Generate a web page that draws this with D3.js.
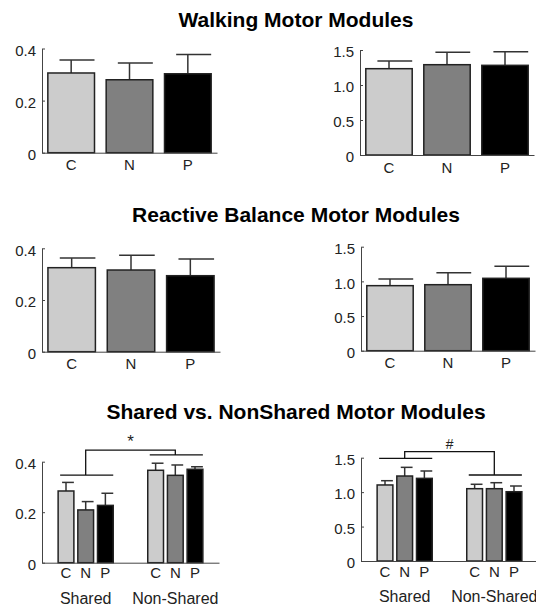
<!DOCTYPE html>
<html>
<head>
<meta charset="utf-8">
<script src="https://cdn.jsdelivr.net/npm/d3@7"></script>
<style>
  body { margin: 0; background: #fff; }
  svg { display: block; font-family: "Liberation Sans", Arial, sans-serif; }
  .title { font-weight: bold; font-size: 21px; fill: #000; }
  .axis text { font-size: 15px; fill: #222; font-family: "Liberation Sans", Arial, sans-serif; }
  .axis .grp text { font-size: 16px; }
  .axis path, .axis line { stroke: #444; }
</style>
</head>
<body>
<div id="container"></div>
<script>
// groups of subjects
const subjects = ['C', 'N', 'P'];
const subjectColors = ['#cccccc', '#808080', '#000000'];
const moduleTypes = ['Shared', 'Non-Shared'];

// walking motor modules (mean, sd)
const walkLeft = [0.306, 0.280, 0.303];
const walkLeftSd = [0.050, 0.064, 0.074];
const walkRight = [1.233, 1.290, 1.281];
const walkRightSd = [0.110, 0.177, 0.195];

// reactive balance motor modules
const balLeft = [0.325, 0.316, 0.294];
const balLeftSd = [0.037, 0.057, 0.065];
const balRight = [0.938, 0.952, 1.044];
const balRightSd = [0.096, 0.173, 0.173];

// shared vs non-shared
const sharedLeft = [0.284, 0.209, 0.227];
const sharedLeftSd = [0.034, 0.033, 0.048];
const nonSharedLeft = [0.366, 0.346, 0.370];
const nonSharedLeftSd = [0.028, 0.041, 0.010];
const sharedRight = [1.104, 1.234, 1.200];
const sharedRightSd = [0.062, 0.126, 0.107];
const nonSharedRight = [1.050, 1.050, 1.006];
const nonSharedRightSd = [0.064, 0.087, 0.083];

// tick labels
const leftTicks = [0, 0.2, 0.4];
const rightTicks = [0, 0.5, 1.0, 1.5];

// bracket levels for significance marks [shared line, top line, non-shared line]
const bracketLeft = [0.347, 0.446, 0.427];
const bracketRight = [1.491, 1.587, 1.249];

const width = 536;
const height = 607;

const svg = d3.select('#container').append('svg')
    .attr('width', width)
    .attr('height', height);

// titles
const titles = [
    ['Walking Motor Modules', 27],
    ['Reactive Balance Motor Modules', 222],
    ['Shared vs. NonShared Motor Modules', 419]
];
svg.selectAll('.title')
    .data(titles)
    .enter()
    .append('text')
    .attr('class', 'title')
    .attr('x', 296)
    .attr('y', d => d[1])
    .attr('text-anchor', 'middle')
    .text(d => d[0]);

function yAxisFor(g, yScale, ticks, x0, fmt) {
    g.append('g')
        .attr('class', 'axis')
        .attr('transform', 'translate(' + x0 + ',0)')
        .call(d3.axisLeft(yScale).tickValues(ticks).tickSizeInner(-3).tickSizeOuter(0)
            .tickPadding(6).tickFormat(fmt))
        .selectAll('text').attr('dy', '0.45em');
}

function drawErr(g, bars) {
    // upper whisker only, cap drawn from quarter of bar to its right edge
    bars.each(function (d) {
        const b = d3.select(this);
        const x = +b.attr('x'), w = +b.attr('width');
        const yTop = d.yScale(d.v), yErr = d.yScale(d.v + d.sd);
        g.append('line').attr('x1', x + w / 2).attr('x2', x + w / 2)
            .attr('y1', yTop).attr('y2', yErr)
            .attr('stroke', '#333').attr('stroke-width', 1.5);
        g.append('line').attr('x1', x + w * 0.25).attr('x2', x + w)
            .attr('y1', yErr).attr('y2', yErr)
            .attr('stroke', '#333').attr('stroke-width', 1.5);
    });
}

// simple 3 bar panel
function simplePanel(vals, sds, o) {
    const g = svg.append('g');
    const yScale = d3.scaleLinear().domain([0, o.max]).range([o.y0, o.yTop]);
    const xScale = d3.scaleBand().domain(subjects).range([o.x0, o.x1])
        .paddingInner(0.2).paddingOuter(0.1);

    const data = subjects.map((s, i) => ({ s: s, v: vals[i], sd: sds[i], c: subjectColors[i], yScale: yScale }));

    // error bars behind the bars
    const errG = g.append('g');

    const bars = g.selectAll('rect')
        .data(data)
        .enter()
        .append('rect')
        .attr('x', d => xScale(d.s))
        .attr('y', d => yScale(d.v))
        .attr('width', xScale.bandwidth())
        .attr('height', d => o.y0 - yScale(d.v))
        .attr('fill', d => d.c)
        .attr('stroke', '#222')
        .attr('stroke-width', 1.5);
    drawErr(errG, bars);

    g.append('g')
        .attr('class', 'axis')
        .attr('transform', 'translate(0,' + o.y0 + ')')
        .call(d3.axisBottom(xScale).tickSize(0).tickSizeOuter(0).tickPadding(7));

    yAxisFor(g, yScale, o.ticks, o.x0, o.fmt);
}

// grouped panel, shared vs non-shared
function groupPanel(sh, shSd, ns, nsSd, o) {
    const g = svg.append('g');
    const yScale = d3.scaleLinear().domain([0, o.max]).range([o.y0, o.yTop]);
    const outer = d3.scaleBand().domain(moduleTypes).range([o.x0, o.x1])
        .paddingInner(0.385).paddingOuter(0.18);
    const inner = d3.scaleBand().domain(subjects).range([0, outer.bandwidth()])
        .paddingInner(0.2).paddingOuter(0);

    const data = [];
    moduleTypes.forEach((m, j) => {
        const vals = j === 0 ? sh : ns;
        const sds = j === 0 ? shSd : nsSd;
        subjects.forEach((s, i) => {
            data.push({ m: m, s: s, v: vals[i], sd: sds[i], c: subjectColors[i], yScale: yScale });
        });
    });

    const errG = g.append('g');
    const bars = g.selectAll('rect')
        .data(data)
        .enter()
        .append('rect')
        .attr('x', d => outer(d.m) + inner(d.s))
        .attr('y', d => yScale(d.v))
        .attr('width', inner.bandwidth())
        .attr('height', d => o.y0 - yScale(d.v))
        .attr('fill', d => d.c)
        .attr('stroke', '#222')
        .attr('stroke-width', 1.5);
    drawErr(errG, bars);

    // x axis with group names lower down
    const xAx = g.append('g')
        .attr('class', 'axis')
        .attr('transform', 'translate(0,' + o.y0 + ')')
        .call(d3.axisBottom(outer).tickSize(0).tickSizeOuter(0).tickPadding(30));
    xAx.selectAll('.tick').classed('grp', true);

    // subject letters under each bar
    xAx.selectAll('.sub')
        .data(data)
        .enter()
        .append('text')
        .attr('class', 'sub')
        .attr('x', d => outer(d.m) + inner(d.s) + inner.bandwidth() / 2)
        .attr('y', 15.5)
        .attr('text-anchor', 'middle')
        .text(d => d.s);

    yAxisFor(g, yScale, o.ticks, o.x0, o.fmt);

    // significance bracket
    const b = o.bracket;
    const shX = outer('Shared'), nsX = outer('Non-Shared'), bw = outer.bandwidth();
    const shC = shX + bw / 2, nsC = nsX + bw / 2;
    const path = d3.path();
    path.moveTo(shX + 2, yScale(b[0])); path.lineTo(shX + bw, yScale(b[0]));
    path.moveTo(shC, yScale(b[0])); path.lineTo(shC, yScale(b[1]));
    path.lineTo(nsC, yScale(b[1])); path.lineTo(nsC, yScale(b[2]));
    path.moveTo(nsX + 2, yScale(b[2])); path.lineTo(nsX + bw, yScale(b[2]));
    g.append('path')
        .attr('d', path.toString())
        .attr('fill', 'none')
        .attr('stroke', '#111')
        .attr('stroke-width', 1.3);

    g.append('text')
        .attr('x', (shC + nsC) / 2)
        .attr('y', yScale(b[1]) - 3)
        .attr('text-anchor', 'middle')
        .attr('font-size', o.markSize)
        .attr('font-style', o.markStyle)
        .attr('fill', '#222')
        .text(o.mark);
}

const fmtLeft = d => d === 0 ? '0' : d3.format('.1f')(d);
const fmtRight = d => d === 0 ? '0' : d3.format('.1f')(d);

simplePanel(walkLeft, walkLeftSd, { x0: 42, x1: 217, y0: 152.7, yTop: 48.5, max: 0.4, ticks: leftTicks, fmt: fmtLeft });
simplePanel(walkRight, walkRightSd, { x0: 360, x1: 534, y0: 155, yTop: 50, max: 1.5, ticks: rightTicks, fmt: fmtRight });
simplePanel(balLeft, balLeftSd, { x0: 42, x1: 220, y0: 351.7, yTop: 248.3, max: 0.4, ticks: leftTicks, fmt: fmtLeft });
simplePanel(balRight, balRightSd, { x0: 361, x1: 535, y0: 350.7, yTop: 246.7, max: 1.5, ticks: rightTicks, fmt: fmtRight });

groupPanel(sharedLeft, sharedLeftSd, nonSharedLeft, nonSharedLeftSd,
    { x0: 42, x1: 219, y0: 562.7, yTop: 461.7, max: 0.4, ticks: leftTicks, fmt: fmtLeft,
      bracket: bracketLeft, mark: '*', markSize: 17, markStyle: 'normal' });
groupPanel(sharedRight, sharedRightSd, nonSharedRight, nonSharedRightSd,
    { x0: 361, x1: 538, y0: 561, yTop: 457.7, max: 1.5, ticks: rightTicks, fmt: fmtRight,
      bracket: bracketRight, mark: '#', markSize: 14, markStyle: 'italic' });
</script>
</body>
</html>
